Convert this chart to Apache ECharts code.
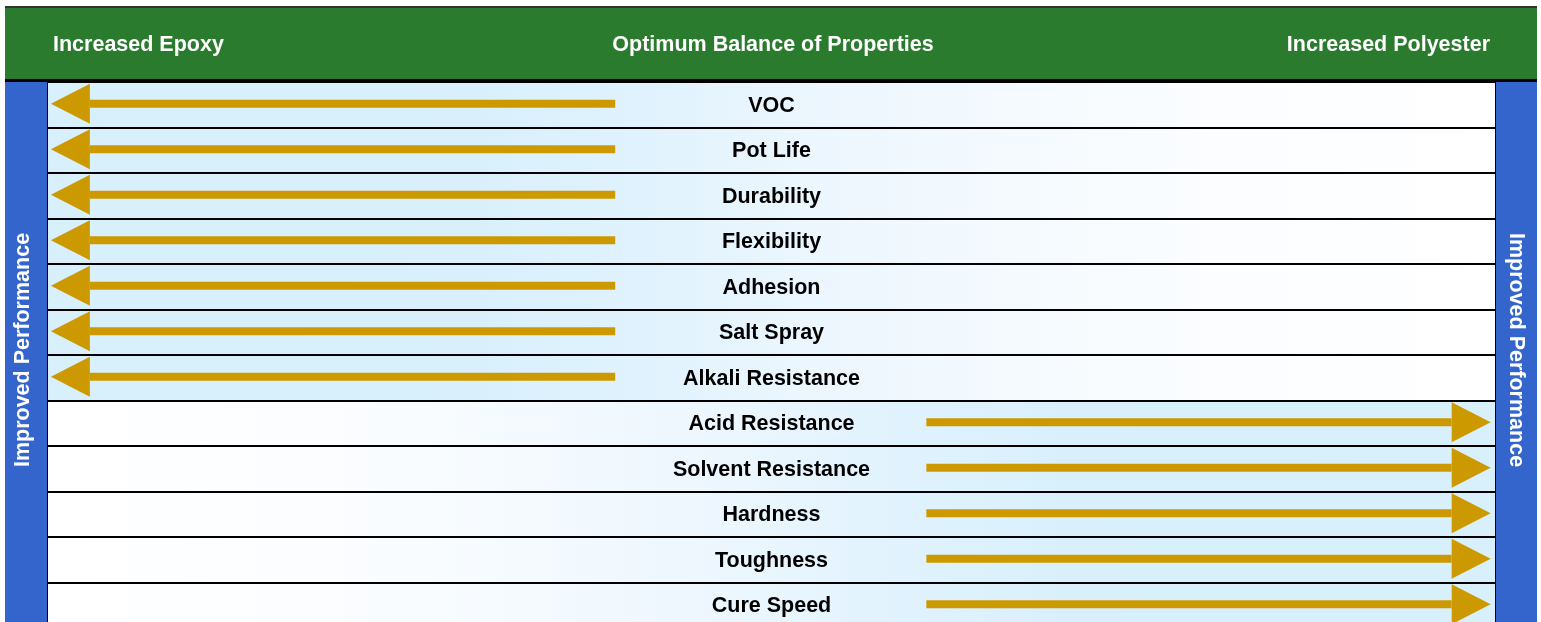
<!DOCTYPE html>
<html>
<head>
<meta charset="utf-8">
<script src="https://cdn.jsdelivr.net/npm/echarts@6/dist/echarts.min.js"></script>
<style>
  html, body { margin: 0; padding: 0; background: #fff; }
  #chart { width: 1541px; height: 622px; }
</style>
</head>
<body>
<div id="chart"></div>
<script>
// rows, top to bottom
var properties = ['VOC', 'Pot Life', 'Durability', 'Flexibility', 'Adhesion', 'Salt Spray',
  'Alkali Resistance', 'Acid Resistance', 'Solvent Resistance', 'Hardness', 'Toughness', 'Cure Speed'];
// which side gives better performance for each property
var favours = ['epoxy', 'epoxy', 'epoxy', 'epoxy', 'epoxy', 'epoxy', 'epoxy',
  'polyester', 'polyester', 'polyester', 'polyester', 'polyester'];
// arrow tail and tip on a 0 (epoxy) .. 100 (polyester) scale
var arrowTail = [39.2, 39.2, 39.2, 39.2, 39.2, 39.2, 39.2, 60.7, 60.7, 60.7, 60.7, 60.7];
var arrowTip = [0.2, 0.2, 0.2, 0.2, 0.2, 0.2, 0.2, 99.7, 99.7, 99.7, 99.7, 99.7];
var headerLabels = ['Increased Epoxy', 'Optimum Balance of Properties', 'Increased Polyester'];
var sideLabel = 'Improved Performance';

var FONT = "'Liberation Sans', Arial, sans-serif";
var GOLD = '#cc9a00';
var BLUE = '#3465cd';
var GREEN = '#2b7b2e';

var epoxyFill = new echarts.graphic.LinearGradient(0, 0, 1, 0, [
  { offset: 0, color: '#d8effc' },
  { offset: 0.3, color: '#d9f0fc' },
  { offset: 0.4, color: '#dff2fd' },
  { offset: 0.55, color: '#eef7fe' },
  { offset: 0.8, color: '#fbfdff' },
  { offset: 1, color: '#ffffff' }
]);
var polyFill = new echarts.graphic.LinearGradient(0, 0, 1, 0, [
  { offset: 0, color: '#ffffff' },
  { offset: 0.2, color: '#fbfdff' },
  { offset: 0.45, color: '#eef7fe' },
  { offset: 0.6, color: '#dff2fd' },
  { offset: 0.7, color: '#d9f0fc' },
  { offset: 1, color: '#d8effc' }
]);

var rowData = properties.map(function (p, i) {
  return {
    value: 100,
    itemStyle: { color: favours[i] === 'epoxy' ? epoxyFill : polyFill }
  };
});

var arrowData = properties.map(function (p, i) {
  return [arrowTail[i], arrowTip[i], i];
});

function renderArrow(params, api) {
  var row = api.value(2);
  var a = api.coord([api.value(0), row]);
  var b = api.coord([api.value(1), row]);
  var dir = b[0] > a[0] ? 1 : -1;
  var headLen = 39, headHalf = 20, shaft = 8;
  var baseX = b[0] - dir * headLen;
  var y = a[1] - 1;
  return {
    type: 'group',
    children: [{
      type: 'rect',
      shape: { x: Math.min(a[0], baseX), y: y - shaft / 2, width: Math.abs(baseX - a[0]), height: shaft },
      style: { fill: GOLD }
    }, {
      type: 'polygon',
      shape: { points: [[baseX, y - headHalf], [b[0], y], [baseX, y + headHalf]] },
      style: { fill: GOLD }
    }]
  };
}

var option = {
  backgroundColor: '#ffffff',
  animation: false,
  grid: {
    left: 48, right: 46, top: 82, height: 546,
    outerBoundsMode: 'none', containLabel: false,
    show: true, borderColor: '#000', borderWidth: 2, backgroundColor: 'transparent'
  },
  xAxis: {
    type: 'value', min: 0, max: 100, show: false
  },
  yAxis: {
    type: 'category', data: properties, inverse: true, z: 5,
    axisLine: { show: false }, axisTick: { show: false }, axisLabel: { show: false },
    splitLine: { show: true, lineStyle: { color: '#000', width: 2 } }
  },
  graphic: [
    { type: 'rect', left: 5, top: 6, shape: { width: 1532, height: 2 }, style: { fill: '#333' }, z: 10 },
    { type: 'rect', left: 5, top: 8, shape: { width: 1532, height: 72 }, style: { fill: GREEN }, z: 10 },
    { type: 'rect', left: 5, top: 79, shape: { width: 1532, height: 3 }, style: { fill: '#000' }, z: 11 },
    { type: 'rect', left: 5, top: 82, shape: { width: 42, height: 545 }, style: { fill: BLUE }, z: 10 },
    { type: 'rect', left: 1496, top: 82, shape: { width: 41, height: 545 }, style: { fill: BLUE }, z: 10 },
    { type: 'text', x: 53, y: 45, z: 12,
      style: { text: headerLabels[0], fill: '#fff', font: 'bold 21.5px ' + FONT, textAlign: 'left', textVerticalAlign: 'middle' } },
    { type: 'text', x: 773, y: 45, z: 12,
      style: { text: headerLabels[1], fill: '#fff', font: 'bold 21.5px ' + FONT, textAlign: 'center', textVerticalAlign: 'middle' } },
    { type: 'text', x: 1490, y: 45, z: 12,
      style: { text: headerLabels[2], fill: '#fff', font: 'bold 21.5px ' + FONT, textAlign: 'right', textVerticalAlign: 'middle' } },
    { type: 'text', x: 23, y: 350, rotation: Math.PI / 2, z: 12,
      style: { text: sideLabel, fill: '#fff', font: 'bold 21.5px ' + FONT, textAlign: 'center', textVerticalAlign: 'middle' } },
    { type: 'text', x: 1516, y: 350, rotation: -Math.PI / 2, z: 12,
      style: { text: sideLabel, fill: '#fff', font: 'bold 21.5px ' + FONT, textAlign: 'center', textVerticalAlign: 'middle' } }
  ],
  series: [{
    type: 'bar',
    data: rowData,
    barWidth: '100%',
    z: 1,
    silent: true,
    label: {
      show: true, position: 'inside', formatter: '{b}',
      color: '#000', fontFamily: FONT, fontWeight: 'bold', fontSize: 21.5, offset: [0, 1]
    }
  }, {
    type: 'custom',
    data: arrowData,
    renderItem: renderArrow,
    z: 3,
    silent: true
  }]
};

var myChart = echarts.init(document.getElementById('chart'));
myChart.setOption(option);
</script>
</body>
</html>
